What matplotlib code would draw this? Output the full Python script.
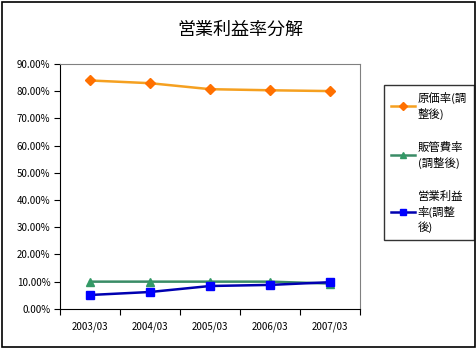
import matplotlib
matplotlib.use("Agg")
from matplotlib import pyplot as plt
from matplotlib.patches import Rectangle
import numpy as np

plt.rcParams['font.family'] = ['Noto Sans CJK JP', 'DejaVu Sans']

periods = ["2003/03", "2004/03", "2005/03", "2006/03", "2007/03"]
cost_rate = [83.9, 82.9, 80.7, 80.3, 80.0]
sga_rate = [10.0, 10.0, 10.0, 10.0, 9.3]
op_rate = [5.1, 6.2, 8.4, 8.8, 9.8]
labels = ["原価率(調\n整後)", "販管費率\n(調整後)", "営業利益\n率(調整\n後)"]

fig = plt.figure(figsize=(4.77, 3.49), dpi=100)
# outer frame
fig.patches.append(Rectangle((0.004, 0.006), 0.992, 0.988, transform=fig.transFigure,
                             fill=False, edgecolor="black", linewidth=1.2))
fig.text(0.503, 0.915, "営業利益率分解", ha="center", va="center", fontsize=13)

ax = fig.add_axes([0.126, 0.115, 0.629, 0.702])
x = np.arange(len(periods))

l1, = ax.plot(x, cost_rate, color="#F5A020", linewidth=1.8, marker="D", markersize=5,
              markerfacecolor="#FF7000", markeredgecolor="#FF7000")
l2, = ax.plot(x, sga_rate, color="#3A8C66", linewidth=1.8, marker="^", markersize=6,
              markerfacecolor="#339966", markeredgecolor="#339966")
l3, = ax.plot(x, op_rate, color="#0000B0", linewidth=1.8, marker="s", markersize=6,
              markerfacecolor="#0000FF", markeredgecolor="#0000FF")

ax.set_xlim(-0.5, 4.5)
ax.set_ylim(0, 90)
ax.set_yticks(np.arange(0, 91, 10))
ax.set_yticklabels(["%.2f%%" % v for v in np.arange(0, 91, 10)], fontsize=7)
ax.set_xticks(np.arange(-0.5, 4.6, 1))
ax.set_xticklabels([])
ax.set_xticks(x, minor=True)
ax.set_xticklabels(periods, minor=True, fontsize=7)
ax.tick_params(axis="x", which="minor", length=0, pad=9)
ax.tick_params(axis="x", which="major", length=4, direction="out")
ax.tick_params(axis="y", length=4, direction="out", pad=3)
for side in ["top", "right"]:
    ax.spines[side].set_color("#808080")
for side in ["left", "bottom"]:
    ax.spines[side].set_color("black")

leg = fig.legend([l1, l2, l3], labels, loc="upper left", bbox_to_anchor=(0.805, 0.756),
                 prop={"size": 8.2}, frameon=True, fancybox=False, edgecolor="black",
                 handlelength=2.1, handletextpad=0.25, labelspacing=1.9,
                 borderpad=0.6, borderaxespad=0)
leg.get_frame().set_linewidth(1.0)
for t in leg.get_texts():
    t.set_linespacing(1.4)
for h in leg.legend_handles:
    h.set_markersize(4)

fig.savefig("out.png", dpi=100)
